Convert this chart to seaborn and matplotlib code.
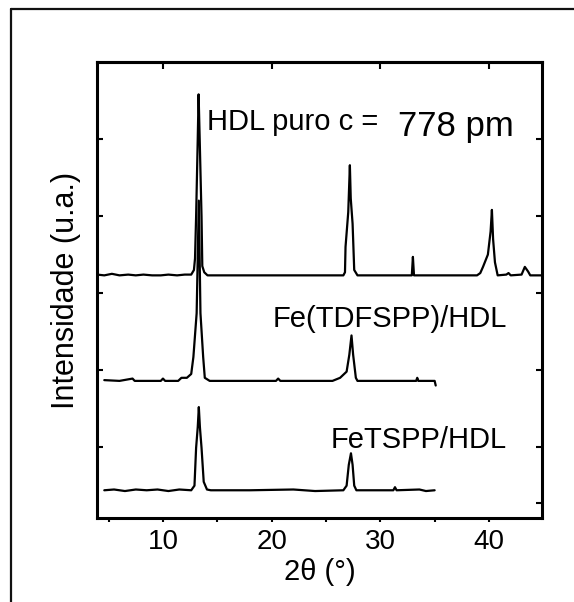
import matplotlib
matplotlib.use("Agg")
import matplotlib.pyplot as plt
import matplotlib.lines as mlines
import seaborn as sns
import pandas as pd

# ---------------- data ----------------
hdl_x = [3.95, 4.6, 5.3, 6.0, 6.8, 7.5, 8.2, 9.0, 9.8, 10.5, 11.3, 12.0, 12.6,
         12.85, 12.95, 13.05, 13.2, 13.28, 13.38, 13.55, 13.62, 13.8, 14.1,
         16.0, 20.0, 24.0, 26.6, 26.75, 26.8, 27.05, 27.2, 27.28, 27.45, 27.6,
         27.9, 30.0, 32.9, 33.0, 33.1, 36.0, 38.9, 39.2, 39.45, 39.9, 40.15,
         40.27, 40.38, 40.55, 40.8, 41.6, 41.8, 42.0, 43.0, 43.3, 43.6, 43.8,
         44.9]
hdl_y = [2.24, 2.23, 2.25, 2.23, 2.24, 2.23, 2.24, 2.23, 2.23, 2.24, 2.23, 2.24, 2.24,
         2.30, 2.45, 2.99, 4.00, 4.58, 4.00, 2.99, 2.35, 2.27, 2.23,
         2.23, 2.23, 2.23, 2.23, 2.27, 2.60, 3.05, 3.66, 3.23, 2.90, 2.30,
         2.23, 2.23, 2.23, 2.47, 2.23, 2.23, 2.23, 2.26, 2.34, 2.50, 2.80,
         3.08, 2.70, 2.40, 2.23, 2.24, 2.26, 2.23, 2.24, 2.34, 2.28, 2.23,
         2.23]

tdf_x = [4.6, 6.0, 7.2, 7.4, 7.6, 9.8, 10.0, 10.2, 11.4, 11.7, 12.2, 12.6, 12.8,
         13.1, 13.3, 13.45, 13.7, 13.85, 14.3, 20.4, 20.6, 20.8, 25.6, 26.3,
         26.9, 27.15, 27.35, 27.5, 27.75, 27.9, 33.3, 33.4, 33.5, 35.0, 35.1]
tdf_y = [0.87, 0.86, 0.89, 0.86, 0.86, 0.86, 0.89, 0.86, 0.86, 0.90, 0.90, 0.95, 1.17,
         1.74, 3.20, 1.74, 1.17, 0.90, 0.86, 0.86, 0.89, 0.86, 0.86, 0.90,
         0.98, 1.20, 1.45, 1.20, 0.90, 0.86, 0.86, 0.90, 0.86, 0.86, 0.80]

tspp_x = [4.6, 5.5, 6.5, 7.5, 8.5, 9.5, 10.5, 11.5, 12.6, 12.9, 13.05, 13.2, 13.3,
          13.4, 13.55, 13.75, 14.05, 14.4, 18.0, 22.0, 24.0, 26.6, 26.9, 27.1,
          27.3, 27.45, 27.6, 27.8, 31.2, 31.35, 31.5, 33.6, 34.2, 35.0]
tspp_y = [-0.56, -0.55, -0.57, -0.55, -0.56, -0.55, -0.57, -0.55, -0.56, -0.50, -0.01, 0.26, 0.52,
          0.26, -0.01, -0.45, -0.55, -0.56, -0.56, -0.55, -0.57, -0.56, -0.50, -0.23,
          -0.08, -0.23, -0.50, -0.56, -0.56, -0.52, -0.56, -0.55, -0.57, -0.56]

x_ticks = [10, 20, 30, 40]
x_minor = [5, 15, 25, 35]
y_ticks = [0, 1, 2, 3, 4]

label_hdl_a = "HDL puro c ="
label_hdl_b = "778 pm"
label_tdf = "Fe(TDFSPP)/HDL"
label_tspp = "FeTSPP/HDL"
x_label = "2θ (°)"
y_label = "Intensidade (u.a.)"

# ---------------- figure ----------------
sns.set_theme(style="ticks")
plt.rcParams["font.family"] = ["Liberation Sans", "DejaVu Sans"]
plt.rcParams["text.color"] = "black"
plt.rcParams["axes.labelcolor"] = "black"
plt.rcParams["xtick.color"] = "black"
plt.rcParams["ytick.color"] = "black"

W, H = 574, 602
fig = plt.figure(figsize=(W / 100, H / 100), dpi=100)
fig.patch.set_facecolor("white")

# outer frame (top and left edges visible)
fig.add_artist(mlines.Line2D([11 / W, 1.0], [(H - 9) / H, (H - 9) / H],
                             transform=fig.transFigure, color="#111111", lw=1.6))
fig.add_artist(mlines.Line2D([11 / W, 11 / W], [0.0, (H - 9) / H],
                             transform=fig.transFigure, color="#111111", lw=1.6))

ax_l, ax_r, ax_t, ax_b = 97, 542, 62, 518
ax = fig.add_axes([ax_l / W, (H - ax_b) / H, (ax_r - ax_l) / W, (ax_b - ax_t) / H])
ax.set_facecolor("white")

for xs, ys in [(hdl_x, hdl_y), (tdf_x, tdf_y), (tspp_x, tspp_y)]:
    df = pd.DataFrame({"x": xs, "y": ys})
    sns.lineplot(data=df, x="x", y="y", ax=ax, sort=False, estimator=None,
                 color="black", lw=1.6)

ax.set_xlim(3.93, 44.88)
ax.set_ylim(-0.92, 5.0)

for s in ax.spines.values():
    s.set_linewidth(2.2)
    s.set_color("black")

# bottom: small outward ticks every 5, labels at 10..40
ax.set_xticks(x_ticks)
ax.set_xticks(x_minor, minor=True)
ax.tick_params(axis="x", which="both", direction="out", length=3, width=1.5,
               bottom=True, top=False, labelsize=20, pad=5, colors="black")
# top: inward ticks at majors
sec = ax.secondary_xaxis("top")
sec.set_xticks(x_ticks)
sec.tick_params(direction="in", length=5, width=1.5, labeltop=False, colors="black")
sec.spines["top"].set_linewidth(2.2)

ax.set_yticks(y_ticks)
ax.set_yticklabels([])
ax.tick_params(axis="y", which="major", direction="in", length=4, width=1.5,
               left=True, right=True, colors="black")
ax.set_yticks([-0.73], minor=True)
ax.tick_params(axis="y", which="minor", direction="in", length=4, width=1.5,
               left=False, right=True, colors="black")

ax.set_xlabel(x_label, fontsize=21, labelpad=2, color="black")
ax.set_ylabel(y_label, fontsize=22, labelpad=8, color="black")

ax.text(14.05, 4.12, label_hdl_a, fontsize=21, ha="left", va="baseline", color="black")
ax.text(31.6, 4.04, label_hdl_b, fontsize=25, ha="left", va="baseline", color="black")
ax.text(20.1, 1.56, label_tdf, fontsize=21, ha="left", va="baseline", color="black")
ax.text(25.4, -0.01, label_tspp, fontsize=21, ha="left", va="baseline", color="black")

fig.savefig("out.png", dpi=100, facecolor="white")
